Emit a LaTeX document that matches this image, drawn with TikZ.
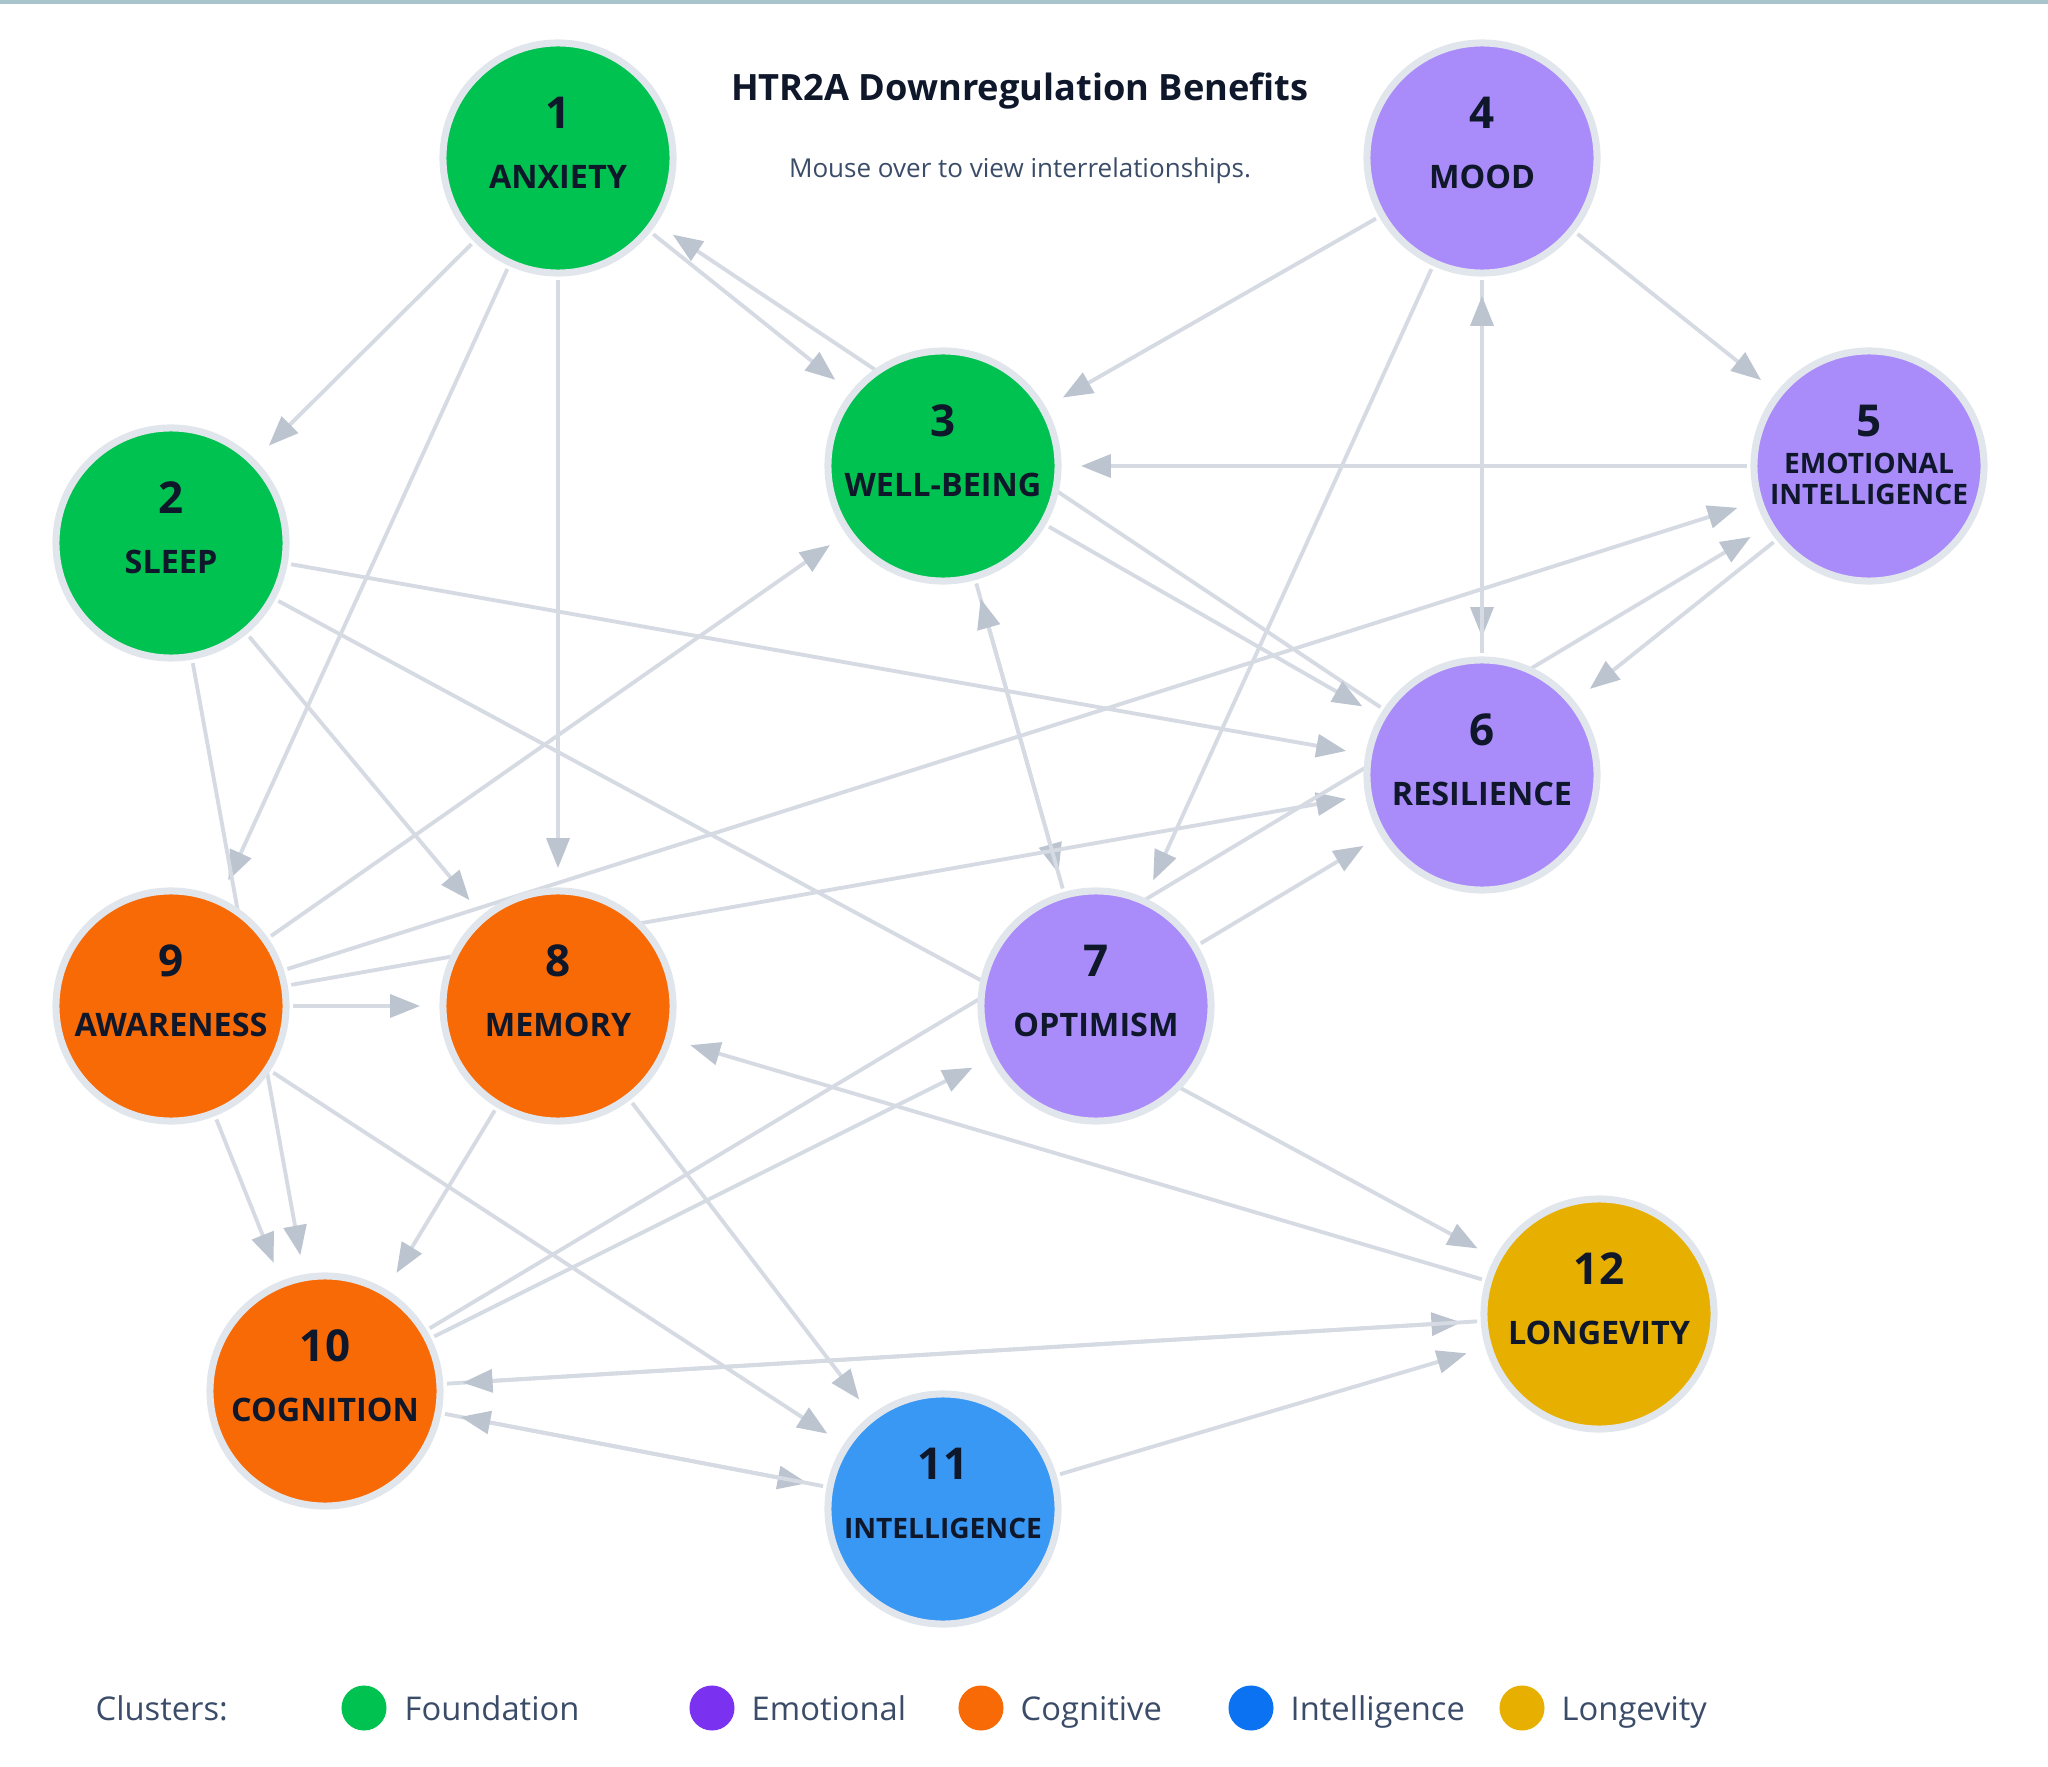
\documentclass[tikz,border=0pt]{standalone}
\usepackage{fontspec}
\setmainfont{Open Sans}
\usetikzlibrary{arrows.meta}
\pgfdeclarelayer{bg}
\pgfsetlayers{bg,main}

\definecolor{ringgray}{HTML}{E1E5EC}
\definecolor{linkgray}{HTML}{D5DAE3}
\definecolor{tipgray}{HTML}{BCC4D0}
\definecolor{inkblue}{HTML}{0F172A}
\definecolor{slate}{HTML}{3B4C69}
\definecolor{topline}{HTML}{A8C5CD}
\definecolor{foundation}{HTML}{00C251}
\definecolor{emotional}{HTML}{A98BFA}
\definecolor{emotionalkey}{HTML}{7B31F0}
\definecolor{cognitive}{HTML}{F76A05}
\definecolor{intelligence}{HTML}{3A98F5}
\definecolor{intelligencekey}{HTML}{0B72F1}
\definecolor{longevity}{HTML}{E7B000}

\tikzset{
  bubble/.style={circle,draw=ringgray,line width=2pt,minimum size=2.3cm,inner sep=0pt},
  num/.style={font=\bfseries\fontsize{12.5}{14}\selectfont,text=inkblue},
  tag/.style={font=\bfseries\fontsize{9.2}{10}\selectfont,text=inkblue},
  smalltag/.style={font=\bfseries\fontsize{8}{8.9}\selectfont,text=inkblue,align=center},
  link/.style={draw=linkgray,line width=1.1pt,-{Triangle[length=8.5pt,width=6.5pt,color=tipgray]},
    shorten >=5.5pt,shorten <=1pt},
  keydot/.style={circle,inner sep=0pt,minimum size=0.45cm},
  keytext/.style={anchor=base west,inner sep=0pt,font=\fontsize{9.3}{11}\selectfont,text=slate}
}

\begin{document}
\begin{tikzpicture}[x=0.01cm,y=-0.01cm]
  \useasboundingbox (0,0) rectangle (2048,1767);
  \fill[topline] (0,0) rectangle (2048,4);

  % heading
  \node[font=\bfseries\fontsize{10.3}{12}\selectfont,text=inkblue] (title) at (1020,91) {HTR2A Downregulation Benefits};
  \node[font=\fontsize{7.4}{9}\selectfont,text=slate] (hint) at (1020,171) {Mouse over to view interrelationships.};

  % benefit bubbles
  \node[bubble,fill=foundation] (n1) at (558,158) {};
  \node[num] at (558,113) {1};
  \node[tag] at (558,177) {ANXIETY};
  \node[bubble,fill=foundation] (n2) at (171,543) {};
  \node[num] at (171,498) {2};
  \node[tag] at (171,562) {SLEEP};
  \node[bubble,fill=foundation] (n3) at (943,466) {};
  \node[num] at (943,421) {3};
  \node[tag] at (943,485) {WELL-BEING};
  \node[bubble,fill=emotional] (n4) at (1482,158) {};
  \node[num] at (1482,113) {4};
  \node[tag] at (1482,177) {MOOD};
  \node[bubble,fill=emotional] (n5) at (1869,466) {};
  \node[num] at (1869,421) {5};
  \node[smalltag] at (1869,479) {EMOTIONAL\\INTELLIGENCE};
  \node[bubble,fill=emotional] (n6) at (1482,775) {};
  \node[num] at (1482,730) {6};
  \node[tag] at (1482,794) {RESILIENCE};
  \node[bubble,fill=emotional] (n7) at (1096,1006) {};
  \node[num] at (1096,961) {7};
  \node[tag] at (1096,1025) {OPTIMISM};
  \node[bubble,fill=cognitive] (n8) at (558,1006) {};
  \node[num] at (558,961) {8};
  \node[tag] at (558,1025) {MEMORY};
  \node[bubble,fill=cognitive] (n9) at (171,1006) {};
  \node[num] at (171,961) {9};
  \node[tag] at (171,1025) {AWARENESS};
  \node[bubble,fill=cognitive] (n10) at (325,1391) {};
  \node[num] at (325,1346) {10};
  \node[tag] at (325,1410) {COGNITION};
  \node[bubble,fill=intelligence] (n11) at (943,1509) {};
  \node[num] at (943,1464) {11};
  \node[smalltag] at (943,1528) {INTELLIGENCE};
  \node[bubble,fill=longevity] (n12) at (1599,1314) {};
  \node[num] at (1599,1269) {12};
  \node[tag] at (1599,1333) {LONGEVITY};

  % links, behind the bubbles
  \begin{pgfonlayer}{bg}
    \draw[link] (n1) -- (n2);
    \draw[link] (n1) -- (n9);
    \draw[link] (n1) -- (n8);
    \draw[link] (n1) -- (n3);
    \draw[link] (n6) -- (n1);
    \draw[link] (n4) -- (n3);
    \draw[link] (n4) -- (n5);
    \draw[link] (n4) -- (n7);
    \draw[link] (n4) -- (n6);
    \draw[link] (n6) -- (n4);
    \draw[link] (n5) -- (n3);
    \draw[link] (n5) -- (n6);
    \draw[link] (n3) -- (n6);
    \draw[link] (n3) -- (n7);
    \draw[link] (n7) -- (n3);
    \draw[link] (n7) -- (n6);
    \draw[link] (n2) -- (n6);
    \draw[link] (n2) -- (n12);
    \draw[link] (n2) -- (n8);
    \draw[link] (n2) -- (n10);
    \draw[link] (n9) -- (n10);
    \draw[link] (n9) -- (n3);
    \draw[link] (n9) -- (n5);
    \draw[link] (n9) -- (n8);
    \draw[link] (n9) -- (n6);
    \draw[link] (n9) -- (n11);
    \draw[link] (n8) -- (n10);
    \draw[link] (n8) -- (n11);
    \draw[link] (n12) -- (n8);
    \draw[link] (n10) -- (n7);
    \draw[link] (n10) -- (n5);
    \draw[link] (n10) -- (n12);
    \draw[link] (n12) -- (n10);
    \draw[link] (n10) -- (n11);
    \draw[link] (n11) -- (n10);
    \draw[link] (n11) -- (n12);
  \end{pgfonlayer}

  % cluster key
  \node[keytext] (clusters) at (95,1720) {Clusters:};
  \node[keydot,fill=foundation] (k1) at (364,1708) {};
  \node[keytext] at (404,1720) {Foundation};
  \node[keydot,fill=emotionalkey] (k2) at (712,1708) {};
  \node[keytext] at (751,1720) {Emotional};
  \node[keydot,fill=cognitive] (k3) at (981,1708) {};
  \node[keytext] at (1020,1720) {Cognitive};
  \node[keydot,fill=intelligencekey] (k4) at (1251,1708) {};
  \node[keytext] at (1290,1720) {Intelligence};
  \node[keydot,fill=longevity] (k5) at (1522,1708) {};
  \node[keytext] at (1561,1720) {Longevity};
\end{tikzpicture}
\end{document}
